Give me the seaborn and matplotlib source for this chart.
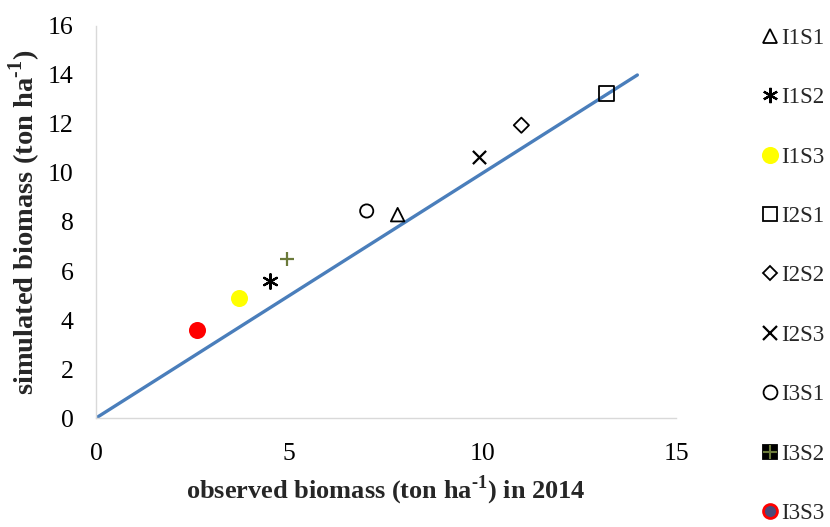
import matplotlib
matplotlib.use("Agg")
import matplotlib.pyplot as plt
from matplotlib.lines import Line2D
import seaborn as sns
import pandas as pd

# Treatments and their observed / simulated biomass (ton/ha)
treatments = ["I1S1", "I1S2", "I1S3", "I2S1", "I2S2", "I2S3", "I3S1", "I3S2", "I3S3"]
observed = [7.8, 4.5, 3.7, 13.2, 11.0, 9.9, 7.0, 4.95, 2.6]
simulated = [8.3, 5.6, 4.9, 13.25, 11.95, 10.65, 8.45, 6.5, 3.6]

# 1:1 reference line
line_x = [0, 14]
line_y = [0, 14]

x_ticks = [0, 5, 10, 15]
y_ticks = [0, 2, 4, 6, 8, 10, 12, 14, 16]

sns.set_theme(style="white")
plt.rcParams["font.family"] = ["Liberation Serif", "DejaVu Serif"]
plt.rcParams["mathtext.fontset"] = "custom"
plt.rcParams["mathtext.rm"] = "Liberation Serif:bold"
plt.rcParams["mathtext.bf"] = "Liberation Serif:bold"

# marker, face colour, edge colour, size
styles = {
    "I1S1": ("^", "none", "black", 95),
    "I1S2": ((6, 2, 0), "black", "black", 110),
    "I1S3": ("o", "#ffff00", "#ffff00", 120),
    "I2S1": ("s", "none", "black", 110),
    "I2S2": ("D", "none", "black", 60),
    "I2S3": ("x", "black", "black", 90),
    "I3S1": ("o", "none", "black", 90),
    "I3S2": ("+", "#6b7a3a", "#6b7a3a", 110),
    "I3S3": ("o", "#ff0000", "#ff0000", 120),
}

df = pd.DataFrame({"treatment": treatments, "observed": observed, "simulated": simulated})
line_df = pd.DataFrame({"x": line_x, "y": line_y})

fig = plt.figure(figsize=(8.3, 5.27), dpi=100)
ax = fig.add_axes([0.1157, 0.2068, 0.6988, 0.7439])

sns.lineplot(data=line_df, x="x", y="y", color="#4a7ebb", linewidth=2.4, ax=ax, zorder=2)

for t in treatments:
    m, fc, ec, s = styles[t]
    sub = df[df["treatment"] == t]
    sns.scatterplot(data=sub, x="observed", y="simulated", marker=m, s=s,
                    color=ec, ax=ax, zorder=3, legend=False)
    coll = ax.collections[-1]
    coll.set_facecolor(fc)
    coll.set_edgecolor(ec)
    coll.set_linewidth(1.3 if m not in ("x", "+") and not isinstance(m, tuple) else 1.6)

ax.set_xlim(0, 15)
ax.set_ylim(0, 16)
ax.set_xticks(x_ticks)
ax.set_yticks(y_ticks)
ax.tick_params(axis="both", length=0, labelsize=18.5, colors="black")
ax.tick_params(axis="x", pad=18)
ax.tick_params(axis="y", pad=16)
for side in ("top", "right"):
    ax.spines[side].set_visible(False)
for side in ("left", "bottom"):
    ax.spines[side].set_color("#d9d9d9")
    ax.spines[side].set_linewidth(1.0)

ax.set_xlabel(r"observed biomass (ton ha$^{\text{-1}}$) in 2014", fontsize=19,
              fontweight="bold", labelpad=6)
ax.set_ylabel(r"simulated biomass (ton ha$^{\text{-1}}$)", fontsize=20.5,
              fontweight="bold", labelpad=4)

# legend entries
def mk(marker, fc, ec, ms, mew=1.3):
    return Line2D([], [], linestyle="none", marker=marker, markerfacecolor=fc,
                  markeredgecolor=ec, markersize=ms, markeredgewidth=mew)

handles = [
    mk("^", "none", "black", 10),
    mk((6, 2, 0), "black", "black", 11, 1.6),
    mk("o", "#ffff00", "#ffff00", 11),
    mk("s", "none", "black", 10),
    mk("D", "none", "black", 7.5),
    mk("x", "black", "black", 10, 1.6),
    mk("o", "none", "black", 10),
    (mk("s", "black", "black", 10), mk("+", "#6b7a3a", "#6b7a3a", 10, 1.5)),
    mk("o", "#4b4a78", "#ff0000", 10, 2),
]
fig.legend(handles, treatments, loc="upper left", bbox_to_anchor=(0.905, 0.965),
           frameon=False, fontsize=16.6, handlelength=0.8, handletextpad=0.1,
           labelspacing=1.66, borderaxespad=0)

fig.savefig("out.png", dpi=100)
